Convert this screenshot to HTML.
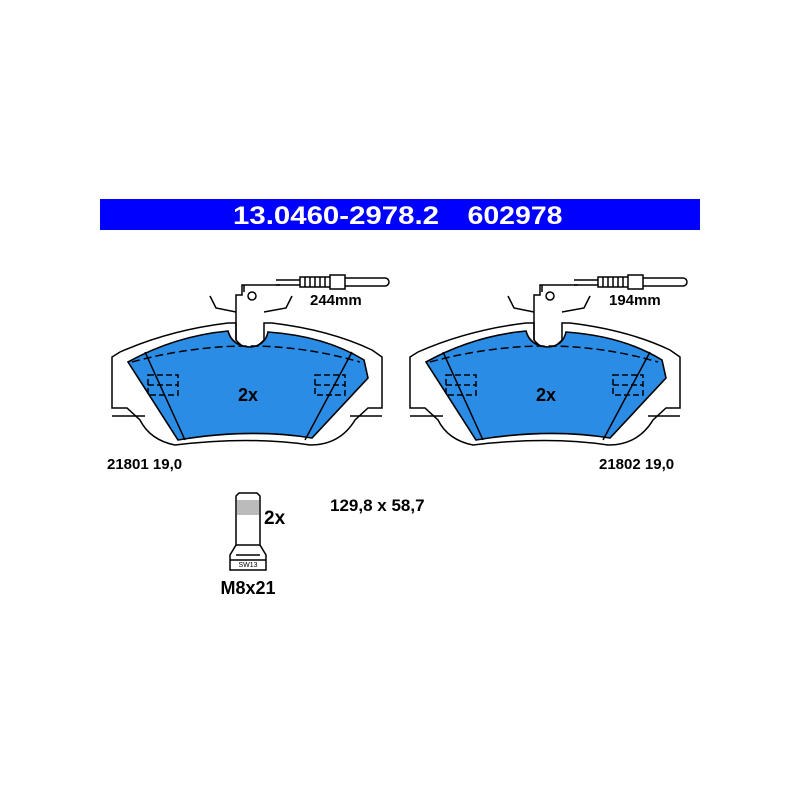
<!DOCTYPE html>
<html><head><style>
body{margin:0;background:#fff;}
svg{display:block;font-family:"Liberation Sans",sans-serif;font-weight:bold;}
</style></head><body>
<svg width="800" height="800" viewBox="0 0 800 800" xmlns="http://www.w3.org/2000/svg">
<rect x="100" y="199" width="600" height="31" fill="#0000ff"/>
<text x="336" y="224" font-size="25" fill="#fff" text-anchor="middle" textLength="206" lengthAdjust="spacingAndGlyphs">13.0460-2978.2</text>
<text x="515" y="224" font-size="25" fill="#fff" text-anchor="middle" textLength="95" lengthAdjust="spacingAndGlyphs">602978</text>

<defs>
<g id="pad" stroke="#000" stroke-width="1.5" fill="none">
  <path d="M112,408 L112,357 L120,352 Q170,330 228,323 L236,323 L236,340 Q249,356 264,340 L264,323 L272,323 Q330,330 372,350 L382,357 L382,408 L368,408 L355,420 Q340,445 310,445 Q250,436 175,445 Q150,440 140,420 L127,408 Z" fill="#fff"/>
  <path d="M112,416 L145,416 M350,416 L382,416"/>
  <path d="M128,362 Q175,336 228,331 Q232,346 250,347 Q265,346 268,332 Q325,336 364,360 L368,378 L312,438 Q250,428 178,440 Z" fill="#2b8ce6" stroke-width="1.6"/>
  <path d="M132,362 Q250,330 360,362" stroke-dasharray="8,4"/>
  <path d="M145,352 L185,440 M352,352 L305,440"/>
  <path d="M148,375 h30 v20 h-30 z M148,385 h30 M315,375 h30 v20 h-30 z M315,385 h30" stroke-dasharray="6,3"/>
  <path d="M236,340 L236,295 L242,295 L242,285 L280,285" />
  <path d="M244,292 L244,285" />
  <circle cx="252" cy="296" r="4" fill="#fff"/>
  <path d="M210,296 L216,308 L236,312 M292,296 L286,308 L264,312"/>
  <path d="M276,280 L300,280 M276,285 L300,285 M300,277 h30 v10 h-30 z M330,275 h15 v14 h-15 z M345,278 h40 a4,4 0 0 1 0,8 h-40"/>
  <path d="M305,277 v10 M310,277 v10 M315,277 v10 M320,277 v10 M325,277 v10"/>
</g>
</defs>
<use href="#pad"/>
<use href="#pad" transform="translate(298,0)"/>
<text x="248" y="401" font-size="18" text-anchor="middle">2x</text>
<text x="546" y="401" font-size="18" text-anchor="middle">2x</text>
<text x="310" y="305" font-size="15">244mm</text>
<text x="609" y="305" font-size="15">194mm</text>
<text x="107" y="469" font-size="15">21801 19,0</text>
<text x="599" y="469" font-size="15">21802 19,0</text>
<text x="330" y="511" font-size="17">129,8 x 58,7</text>

<g stroke="#000" stroke-width="1.5" fill="#fff">
  <path d="M236,496 L239,493 L257,493 L260,496 L260,545 L266,555 L266,570 L230,570 L230,555 L236,545 Z"/>
  <rect x="237" y="500" width="22" height="15" fill="#bbb" stroke="none"/>
  <path d="M236,545 L260,545 M236,555 L260,555 M230,560 h36" fill="none"/>
</g>
<text x="248" y="567" font-size="7" text-anchor="middle" font-weight="normal">SW13</text>
<text x="264" y="524" font-size="19">2x</text>
<text x="248" y="594" font-size="18" text-anchor="middle">M8x21</text>
</svg>
</body></html>
